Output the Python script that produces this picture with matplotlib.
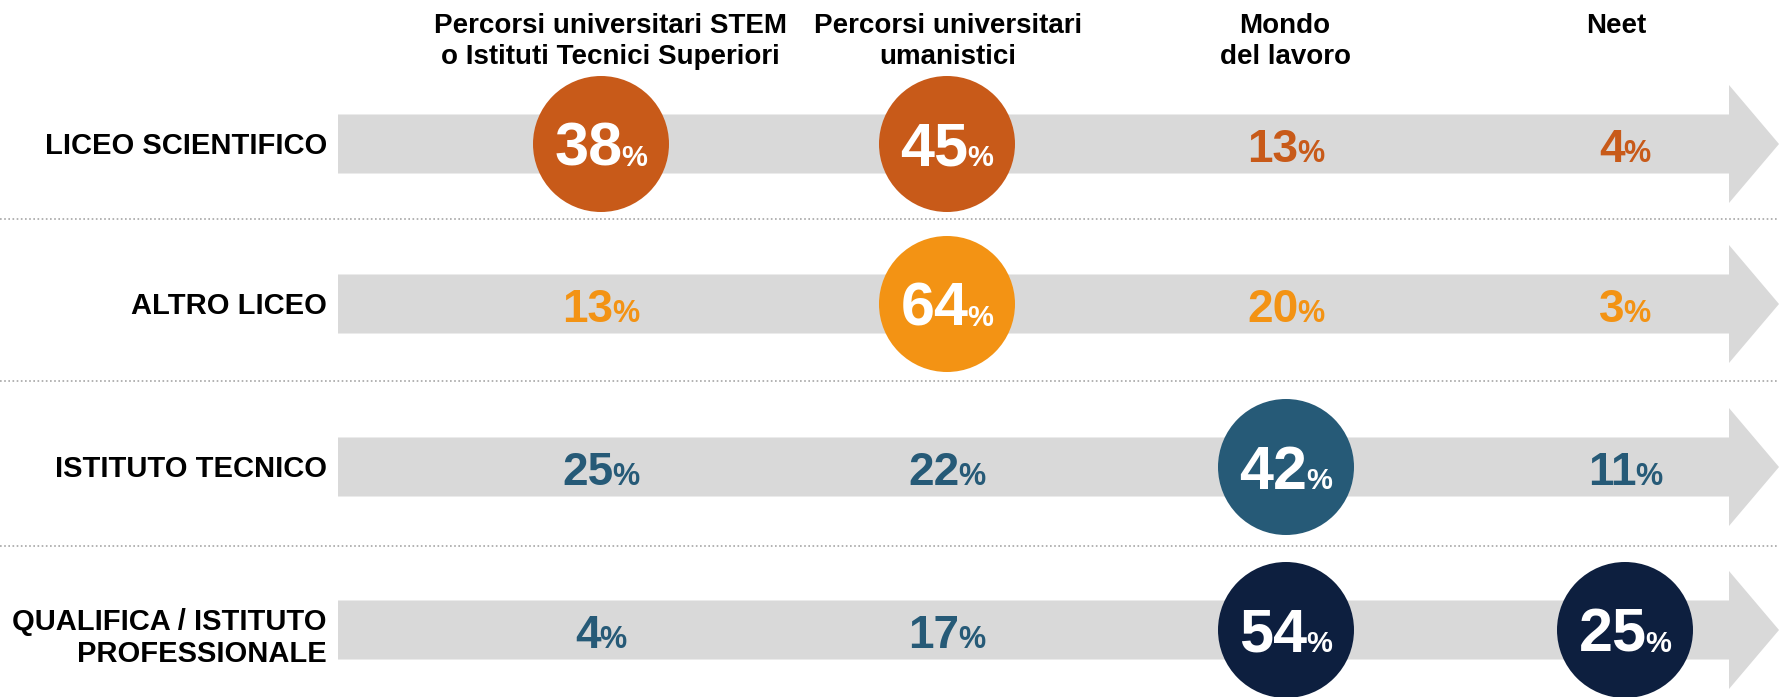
import matplotlib.pyplot as plt
from matplotlib.patches import Polygon, Circle

# Data
rows = ['LICEO SCIENTIFICO', 'ALTRO LICEO', 'ISTITUTO TECNICO',
        'QUALIFICA / ISTITUTO\nPROFESSIONALE']
columns = ['Percorsi universitari STEM\no Istituti Tecnici Superiori',
           'Percorsi universitari\numanistici',
           'Mondo\ndel lavoro',
           'Neet']
liceo_scientifico = [38, 45, 13, 4]
altro_liceo = [13, 64, 20, 3]
istituto_tecnico = [25, 22, 42, 11]
qualifica_professionale = [4, 17, 54, 25]
values = [liceo_scientifico, altro_liceo, istituto_tecnico, qualifica_professionale]

# which cells get a circle
highlights = [[0, 1], [1], [2], [2, 3]]

# colours per row: circle colour, plain number colour
circle_colors = ['#C85A19', '#F39314', '#265A77', '#0D1F3F']
text_colors = ['#C85A19', '#F39314', '#265A77', '#265A77']
bar_color = '#D9D9D9'

plt.rcParams['font.family'] = ['Liberation Sans', 'DejaVu Sans']

W, H = 1779, 697
fig = plt.figure(figsize=(W / 100, H / 100), dpi=100)
ax = fig.add_axes([0, 0, 1, 1])
ax.set_xlim(0, W)
ax.set_ylim(H, 0)
ax.axis('off')

# layout (pixels)
row_y = [144, 304, 467, 630]
col_x = [601, 947, 1286, 1625]
header_x = [610, 948, 1285, 1616]
sep_y = [219, 381, 546]
bar_left, head_start, tip = 338, 1729, 1779
bar_half, head_half = 29.5, 59
radius = 68

renderer = fig.canvas.get_renderer()


def put_number(x, y, value, color, big):
    """Draw value with a smaller % sign, centred on x."""
    size_num = 44 if big else 33
    size_pct = 21 if big else 22
    cap = size_num / 72 * 100 * 0.716
    base = y + cap / 2
    t1 = ax.text(0, base, str(value), fontsize=size_num, fontweight='bold',
                 color=color, ha='left', va='baseline', zorder=3)
    t2 = ax.text(0, base, '%', fontsize=size_pct, fontweight='bold',
                 color=color, ha='left', va='baseline', zorder=3)
    w1 = t1.get_window_extent(renderer).width
    w2 = t2.get_window_extent(renderer).width
    gap = -1
    start = x - (w1 + gap + w2) / 2
    t1.set_x(start)
    t2.set_x(start + w1 + gap)


for i, y in enumerate(row_y):
    # arrow shaped bar
    arrow = Polygon([(bar_left, y - bar_half), (head_start, y - bar_half),
                     (head_start, y - head_half), (tip, y),
                     (head_start, y + head_half), (head_start, y + bar_half),
                     (bar_left, y + bar_half)],
                    closed=True, facecolor=bar_color, edgecolor='none', zorder=1)
    ax.add_patch(arrow)

    dy = 8 if '\n' in rows[i] else 2
    ax.text(327, y + dy, rows[i], fontsize=21, fontweight='bold', ha='right',
            va='center', linespacing=1.18, color='black')

    for j, x in enumerate(col_x):
        if j in highlights[i]:
            ax.add_patch(Circle((x, y), radius, facecolor=circle_colors[i],
                                edgecolor='none', zorder=2))
            put_number(x, y, values[i][j], 'white', True)
        else:
            put_number(x, y + 2, values[i][j], text_colors[i], False)

for y in sep_y:
    ax.plot([0, W], [y, y], color='#A6A6A6', linestyle=(0, (1, 1.5)), lw=1.2)

for j, x in enumerate(header_x):
    ax.text(x, 13, columns[j], fontsize=20, fontweight='bold', ha='center',
            va='top', linespacing=1.27, color='black')

fig.savefig('out.png', dpi=100)
